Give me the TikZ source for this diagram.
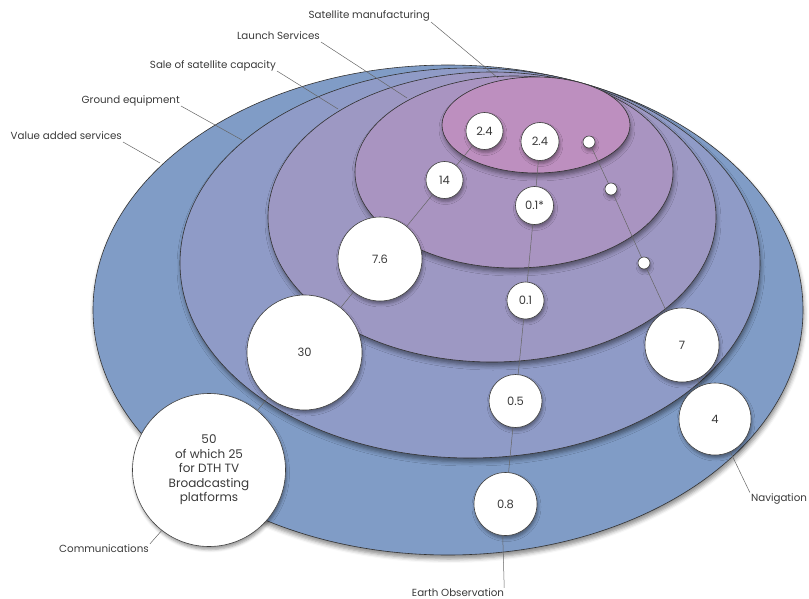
\documentclass[tikz,border=0pt]{standalone}
\usepackage{fontspec}
\setmainfont{Poppins}
\usetikzlibrary{shadows.blur}
\definecolor{cVA}{HTML}{809CC6}
\definecolor{cGE}{HTML}{8F9BC7}
\definecolor{cSC}{HTML}{9D98C3}
\definecolor{cLS}{HTML}{A994C1}
\definecolor{cSM}{HTML}{BD8FBF}
\definecolor{txt}{HTML}{3A3A3A}
\begin{document}
\begin{tikzpicture}[x=1pt,y=-1pt,
  ring/.style={draw=black!80, line width=0.6pt,
    blur shadow={shadow xshift=1pt, shadow yshift=-4pt, shadow blur radius=4pt, shadow opacity=45}},
  bubble/.style={circle, draw=black!75, fill=white, line width=0.6pt, inner sep=0pt,
    text=txt, font=\fontsize{11.5}{14}\selectfont,
    blur shadow={shadow xshift=1pt, shadow yshift=-3pt, shadow blur radius=3pt, shadow opacity=40}},
  dot/.style={bubble, minimum size=12pt},
  link/.style={draw=black!60, line width=0.5pt},
  lab/.style={text=txt, font=\fontsize{10.3}{12}\selectfont, inner sep=1pt}]
\useasboundingbox (0,0) rectangle (809,599);

% nested ellipses
\path[ring, fill=cVA] (448,310) ellipse [x radius=355pt, y radius=245pt];
\path[ring, fill=cGE] (470,263) ellipse [x radius=290pt, y radius=195pt];
\path[ring, fill=cSC] (492,217) ellipse [x radius=224pt, y radius=145pt];
\path[ring, fill=cLS] (514,172) ellipse [x radius=159pt, y radius=96pt];
\path[ring, fill=cSM] (536,125) ellipse [x radius=94pt, y radius=48pt];

% labels
\node[lab, anchor=east] (lsm) at (431,16) {Satellite manufacturing};
\node[lab, anchor=east] (lls) at (321,36) {Launch Services};
\node[lab, anchor=east] (lsc) at (277,66) {Sale of satellite capacity};
\node[lab, anchor=east] (lge) at (181,101) {Ground equipment};
\node[lab, anchor=east] (lva) at (123,136) {Value added services};
\node[lab] (lcomm) at (104,549) {Communications};
\node[lab] (lnav) at (779,499) {Navigation};
\node[lab] (leo) at (458,593) {Earth Observation};

\coordinate (esm) at (498,78);
\coordinate (els) at (407,98);
\coordinate (esc) at (338,109);
\coordinate (ege) at (242,140);
\coordinate (eva) at (160,163);

\draw[link] ([yshift=-6pt]lsm.east) -- (esm);
\draw[link] ([yshift=-6pt]lls.east) -- (els);
\draw[link] ([yshift=-5pt]lsc.east) -- (esc);
\draw[link] ([yshift=-5pt]lge.east) -- (ege);
\draw[link] ([yshift=-6pt]lva.east) -- (eva);

% Communications chain
\node[bubble, minimum size=37pt] (ca) at (484.5,131) {2.4};
\node[bubble, minimum size=37pt] (cb) at (444.5,180) {14};
\node[bubble, minimum size=84pt] (cc) at (380,259) {7.6};
\node[bubble, minimum size=115pt] (cd) at (304.5,352.5) {30};
\node[bubble, minimum size=153pt, align=center, font=\fontsize{12}{14.5}\selectfont] (ce) at (209,470)
  {50\\of which 25\\for DTH TV\\Broadcasting\\platforms};

% Earth observation chain
\node[bubble, minimum size=38pt] (ea) at (540,141.5) {2.4};
\node[bubble, minimum size=38pt] (eb) at (534.5,205.5) {0.1*};
\node[bubble, minimum size=37pt] (ec) at (525.5,300.5) {0.1};
\node[bubble, minimum size=53pt] (ed) at (515.5,401) {0.5};
\node[bubble, minimum size=63pt] (ee) at (505.5,504) {0.8};

% Navigation chain
\node[dot] (na) at (589,142) {};
\node[dot] (nb) at (611,189) {};
\node[dot] (nc) at (644,263) {};
\node[bubble, minimum size=74pt] (nd) at (682,345) {7};
\node[bubble, minimum size=72pt] (ne) at (715,419) {4};

% connectors
\draw[link] (ca) -- (cb);
\draw[link] (cb) -- (cc);
\draw[link] (cc) -- (cd);
\draw[link] (cd) -- (ce);
\draw[link] (ce.232) -- (lcomm.north east);

\draw[link] (ea) -- (eb);
\draw[link] (eb) -- (ec);
\draw[link] (ec) -- (ed);
\draw[link] (ed) -- (ee);
\draw[link] (ee.265) -- ([xshift=-1pt]leo.north east);

\draw[link] (na) -- (nb);
\draw[link] (nb) -- (nc);
\draw[link] (nc) -- (nd);
\draw[link] (nd) -- (ne);
\draw[link] (ne.-65) -- (lnav.north west);
\end{tikzpicture}
\end{document}
